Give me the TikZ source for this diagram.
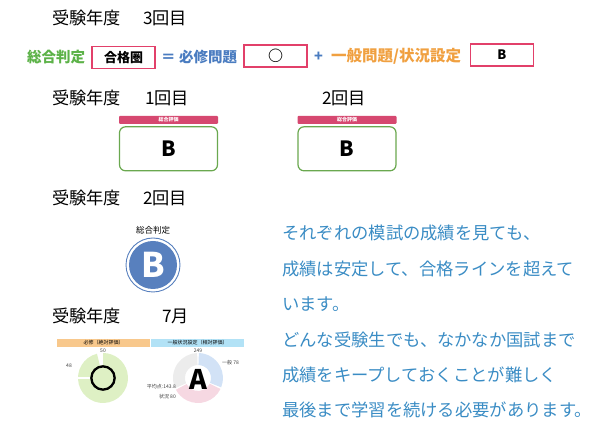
\documentclass[tikz,border=0pt]{standalone}
\usepackage{fontspec}
\setmainfont{Noto Sans CJK JP}
\newfontfamily\heavyfont{Noto Sans CJK JP}[FakeBold=5]
\usetikzlibrary{positioning}
\definecolor{judgegreen}{RGB}{92,178,72}
\definecolor{mustblue}{RGB}{74,124,192}
\definecolor{genorange}{RGB}{240,160,64}
\definecolor{boxred}{RGB}{226,64,106}
\definecolor{barpink}{RGB}{214,72,112}
\definecolor{frameg}{RGB}{106,168,79}
\definecolor{circblue}{RGB}{88,128,190}
\definecolor{notecol}{RGB}{58,140,196}
\definecolor{hdorange}{RGB}{248,200,140}
\definecolor{hdblue}{RGB}{178,226,246}
\definecolor{ringgreen}{RGB}{222,240,196}
\definecolor{segblue}{RGB}{210,226,246}
\definecolor{segpink}{RGB}{246,216,226}
\definecolor{seggray}{RGB}{236,236,236}
\begin{document}
\begin{tikzpicture}[x=1pt, y=1pt]
    \tikzset{
    heading/.style={
        anchor=base west,
        inner sep=0pt,
        font=\fontsize{17.2}{18}\selectfont
    },
    judge/.style={
        anchor=base west,
        inner sep=0pt,
        font=\fontsize{14.5}{16}\selectfont\bfseries
    },
    gradebox/.style={
        rectangle,
        draw=boxred,
        line width=1.1pt,
        minimum width=63pt,
        minimum height=22pt,
        font=\fontsize{13}{15}\selectfont\bfseries
    },
    pinkbar/.style={
        rectangle,
        fill=barpink,
        rounded corners=1pt,
        minimum width=99pt,
        minimum height=8pt,
        inner sep=0pt,
        text=white,
        font=\fontsize{5}{5}\selectfont\bfseries
    },
    resultbox/.style={
        rectangle,
        draw=frameg,
        line width=1.2pt,
        rounded corners=6pt,
        minimum width=98pt,
        minimum height=44pt,
        font=\fontsize{21}{24}\selectfont\bfseries
    },
    note/.style={
        anchor=base west,
        inner sep=0pt,
        text=notecol,
        font=\fontsize{17.3}{18}\selectfont
    },
    tiny/.style={
        inner sep=0pt,
        text=black!75,
        font=\fontsize{5}{6}\selectfont
    }
}
    \useasboundingbox (0,0) rectangle (595,-427);

    % 3回目
    \node[heading] (y3) at (52,-25) {受験年度};
    \node[heading] (k3) at (143,-25) {3回目};
    \node[judge, text=judgegreen] (sogo) at (27,-63) {総合判定};
    \node[gradebox] (gokaku) at (123.5,-57.5) {合格圏};
    \node[judge, text=mustblue] (hisshu) at (161,-63) {＝ 必修問題};
    \node[gradebox, font=\fontsize{15}{16}\selectfont\bfseries] (hisshuval) at (275.5,-56) {○};
    \node[judge, text=mustblue] (plus) at (314,-62) {+};
    \node[judge, text=genorange, font=\fontsize{15.5}{16}\selectfont\bfseries] (ippan) at (331,-62) {一般問題/状況設定};
    \node[gradebox] (ippanval) at (502,-55) {B};

    % 1回目・2回目
    \node[heading] (y1) at (52,-105) {受験年度};
    \node[heading] (k1) at (145,-105) {1回目};
    \node[heading] (k2) at (322,-105) {2回目};
    \node[pinkbar] (bar1) at (168.5,-120) {総合評価};
    \node[resultbox, below=2pt of bar1] (res1) {B};
    \node[pinkbar] (bar2) at (347,-120) {総合評価};
    \node[resultbox, below=2pt of bar2] (res2) {B};

    % 2回目
    \node[heading] (y2) at (52,-205) {受験年度};
    \node[heading] (k2b) at (143,-205) {2回目};
    \node[inner sep=0pt, font=\fontsize{8.5}{9}\selectfont] (lbl) at (153,-230) {総合判定};
    \node[circle, fill=circblue, minimum size=48pt, inner sep=0pt, text=white,
          font=\fontsize{34}{36}\selectfont\bfseries] (final) at (153,-265) {B};
    \draw[circblue, line width=0.9pt] (final.center) circle[radius=27];

    % 7月
    \node[heading] (y7) at (52,-323) {受験年度};
    \node[heading] (m7) at (162,-323) {7月};
    \node[rectangle, fill=hdorange, minimum width=93pt, minimum height=8pt, inner sep=0pt,
          font=\fontsize{5}{5}\selectfont] (hd1) at (103.5,-343) {必修（絶対評価）};
    \node[rectangle, fill=hdblue, minimum width=93pt, minimum height=8pt, inner sep=0pt,
          font=\fontsize{5}{5}\selectfont] (hd2) at (197.5,-343) {一般状況設定（相対評価）};
    \begin{scope}[shift={(103,-378)}]
        \fill[ringgreen] (104:25) arc[start angle=104, end angle=450, radius=25]
            -- (90:13) arc[start angle=90, end angle=104, radius=13] -- cycle;
        \draw[white, line width=1.2pt] (180:13) -- (180:25);
    \end{scope}
    \node[font=\fontsize{27}{28}\heavyfont] (must) at (103,-378) {○};
    \node[tiny] (n50) at (103,-351) {50};
    \node[tiny] (n48) at (69,-366) {48};
    \begin{scope}[shift={(198,-378)}]
        \foreach \a/\b/\c in {88/-22/segblue, -26/-152/segpink, -156/-268/seggray}
            \fill[\c] (\a:25) arc[start angle=\a, end angle=\b, radius=25]
                -- (\b:13) arc[start angle=\b, end angle=\a, radius=13] -- cycle;
    \end{scope}
    \node[font=\fontsize{27}{28}\selectfont\bfseries] (gen) at (198,-379) {A};
    \node[tiny] (n249) at (198,-351) {249};
    \node[tiny, anchor=west] (n78) at (222,-363) {一般 78};
    \node[tiny, anchor=east] (avg) at (176,-387) {平均点:143.8};
    \node[tiny, anchor=east] (n80) at (176,-397) {状況 80};

    % コメント
    \node[note] (t1) at (282,-240) {それぞれの模試の成績を見ても、};
    \node[note] (t2) at (282,-276) {成績は安定して、合格ラインを超えて};
    \node[note] (t3) at (282,-311) {います。};
    \node[note] (t4) at (282,-347) {どんな受験生でも、なかなか国試まで};
    \node[note] (t5) at (282,-382) {成績をキープしておくことが難しく};
    \node[note] (t6) at (282,-417) {最後まで学習を続ける必要があります。};
\end{tikzpicture}
\end{document}
